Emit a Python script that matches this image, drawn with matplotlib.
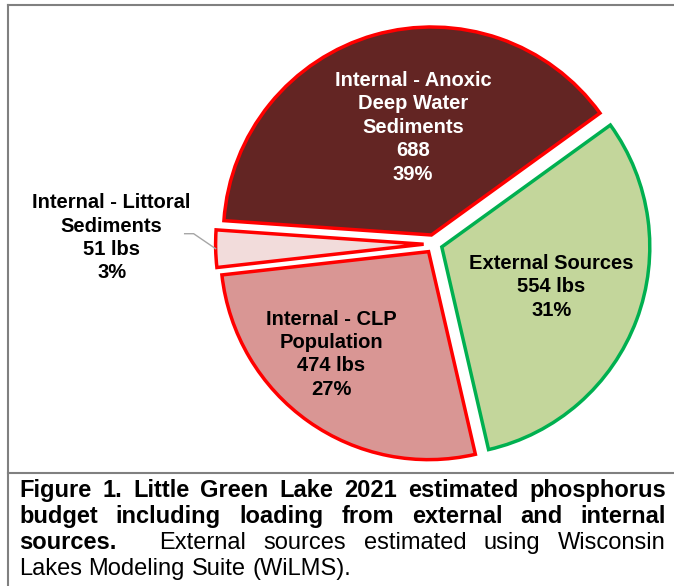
import matplotlib
matplotlib.use("Agg")
import matplotlib.pyplot as plt
import numpy as np

# ==================================================
# data

labels = ["External Sources", "Internal - Anoxic\nDeep Water\nSediments",
          "Internal - Littoral\nSediments", "Internal - CLP\nPopulation"]
values = [554, 688, 51, 474]
units = [" lbs", "", " lbs", " lbs"]

fill_colors = ["#C3D69B", "#632523", "#F2DCDB", "#D99694"]
edge_colors = ["#00B050", "#FF0000", "#FF0000", "#FF0000"]
text_colors = ["black", "white", "black", "black"]

caption_bold_1 = "Figure 1. Little Green Lake 2021 estimated phosphorus"
caption_bold_2 = "budget including loading from external and internal"
caption_bold_3 = "sources."
caption_reg_3 = "External sources estimated using Wisconsin"
caption_reg_4 = "Lakes Modeling Suite (WiLMS)."

# ==================================================
# layout (pixels)

W, H = 674, 586
CX, CY, R = 434, 244, 208
explode = [0.04, 0.045, 0.05, 0.045]            # fraction of radius
# label placement: (distance / R, angle offset from wedge mid, degrees)
label_pos = [(0.56, 0.5), (0.525, -6.3), (1.50, -2.4), (0.68, -8.3)]

plt.rcParams["font.family"] = ["Liberation Sans", "DejaVu Sans"]

fig = plt.figure(figsize=(W / 100, H / 100), dpi=100)
ax = fig.add_axes([0, 0, 1, 1])

wedges, _ = ax.pie(
    values,
    colors=fill_colors,
    startangle=-77,
    counterclock=True,
    radius=R,
    center=(CX, H - CY),
    explode=[e * R for e in explode],
    wedgeprops=dict(linewidth=2.5),
)
ax.set_xlim(0, W)
ax.set_ylim(0, H)
ax.set_aspect("auto")
ax.axis("off")

total = sum(values)
for w, ec, lab, v, u, tc, (dist, doff) in zip(
        wedges, edge_colors, labels, values, units, text_colors, label_pos):
    w.set_edgecolor(ec)
    w.set_joinstyle("miter")
    mid = np.deg2rad((w.theta1 + w.theta2) / 2 + doff)
    cx, cy = w.center
    tx = cx + dist * R * np.cos(mid)
    ty = cy + dist * R * np.sin(mid)
    pct = round(v / total * 100)
    ax.text(tx, ty, f"{lab}\n{v}{u}\n{pct}%", ha="center", va="center",
            color=tc, fontsize=14.5, fontweight="bold", linespacing=1.29)

# leader line for the small littoral slice
lw_ = wedges[2]
m = np.deg2rad((lw_.theta1 + lw_.theta2) / 2)
ex = lw_.center[0] + R * np.cos(m)
ey = lw_.center[1] + R * np.sin(m)
ax.plot([ex - 31, ex - 22, ex], [ey + 15, ey + 15, ey], color="#A6A6A6",
        lw=1, solid_joinstyle="miter")

# frame lines (table cell borders)
gray = "#808080"
fig.add_artist(plt.Line2D([8 / W, 1], [1 - 5 / H, 1 - 5 / H], color=gray, lw=1.5))
fig.add_artist(plt.Line2D([8 / W, 8 / W], [0, 1 - 5 / H], color=gray, lw=1.5))
fig.add_artist(plt.Line2D([8 / W, 1], [1 - 473 / H, 1 - 473 / H], color=gray, lw=1.5))

# ==================================================
# caption, justified

renderer = fig.canvas.get_renderer()
CAP_FS = 17.0
X0, X1 = 19, 666


def put_line(tokens, baseline, justify=True, gap_weights=None):
    # tokens: list of (word, weight)
    arts = []
    widths = []
    for word, wt in tokens:
        t = fig.text(0, 1 - baseline / H, word, fontsize=CAP_FS, fontweight=wt,
                     ha="left", va="baseline")
        arts.append(t)
        widths.append(t.get_window_extent(renderer).width)
    n = len(tokens)
    if gap_weights is None:
        gap_weights = [1.0] * (n - 1)
    if justify:
        unit = (X1 - X0 - sum(widths)) / sum(gap_weights)
    else:
        sp = fig.text(0, 0, "a a", fontsize=CAP_FS)
        sp2 = fig.text(0, 0, "aa", fontsize=CAP_FS)
        unit = sp.get_window_extent(renderer).width - sp2.get_window_extent(renderer).width
        sp.remove()
        sp2.remove()
    x = X0
    for i, (t, wd) in enumerate(zip(arts, widths)):
        t.set_x(x / W)
        x += wd
        if i < n - 1:
            x += unit * gap_weights[i]


put_line([(wd, "bold") for wd in caption_bold_1.split()], 497)
put_line([(wd, "bold") for wd in caption_bold_2.split()], 523)
toks3 = [(caption_bold_3, "bold")] + [(wd, "normal") for wd in caption_reg_3.split()]
put_line(toks3, 549, gap_weights=[2.4] + [1.0] * (len(toks3) - 2))
put_line([(wd, "normal") for wd in caption_reg_4.split()], 575, justify=False)

fig.savefig("out.png", dpi=100)
